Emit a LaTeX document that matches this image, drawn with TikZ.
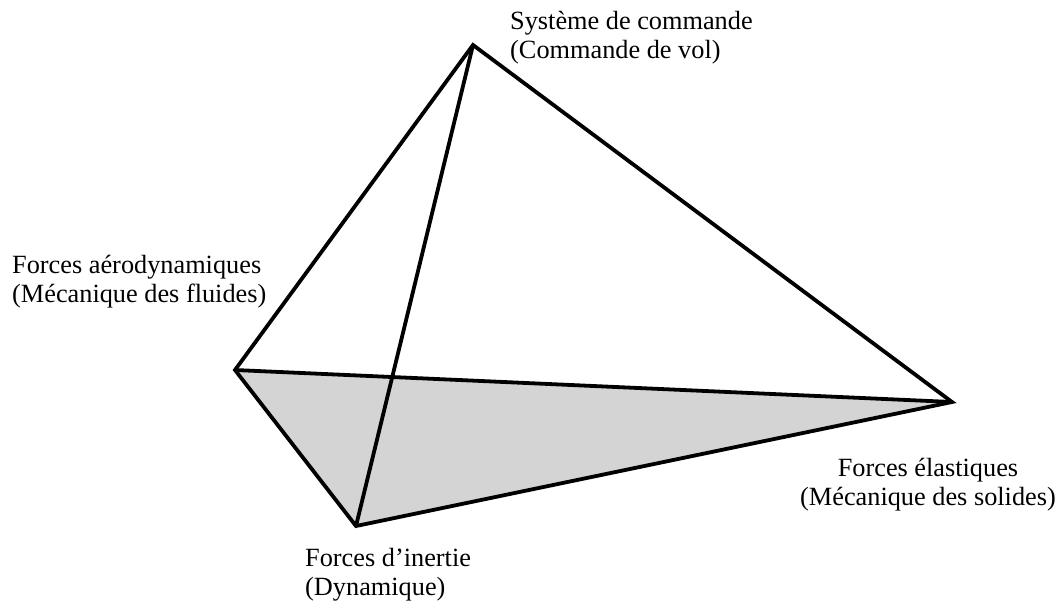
\documentclass[tikz,border=0pt]{standalone}
\usepackage{fontspec}
\setmainfont{Liberation Serif}
\begin{document}
\begin{tikzpicture}[x=1pt,y=-1pt,
  edge/.style={line width=3.8pt,line join=miter},
  face/.style={fill=black!17},
  lbl/.style={inner sep=0pt,font=\fontsize{26.3}{28.5}\selectfont}]
\useasboundingbox (0,0) rectangle (1062,606);
% tetrahedron corners
\coordinate (top) at (473,45);
\coordinate (left) at (235,370);
\coordinate (bottom) at (356,526);
\coordinate (right) at (952,402);
% shaded base face
\fill[face] (left) -- (bottom) -- (right) -- cycle;
% edges
\draw[edge] (top) -- (left) -- (bottom) -- (right) -- cycle;
\draw[edge] (top) -- (bottom);
\draw[edge] (left) -- (right);
% labels (anchored on the baseline of their last line)
\node[lbl,anchor=base west,align=left] (cmd) at (510,58)
  {Système de commande\\(Commande de vol)};
\node[lbl,anchor=base west,align=left] (aero) at (12,302)
  {Forces aérodynamiques\\(Mécanique des fluides)};
\node[lbl,anchor=base,align=center] (elas) at (928,505)
  {Forces élastiques\\(Mécanique des solides)};
\node[lbl,anchor=base west,align=left] (iner) at (305,595)
  {Forces d’inertie\\(Dynamique)};
\end{tikzpicture}
\end{document}
